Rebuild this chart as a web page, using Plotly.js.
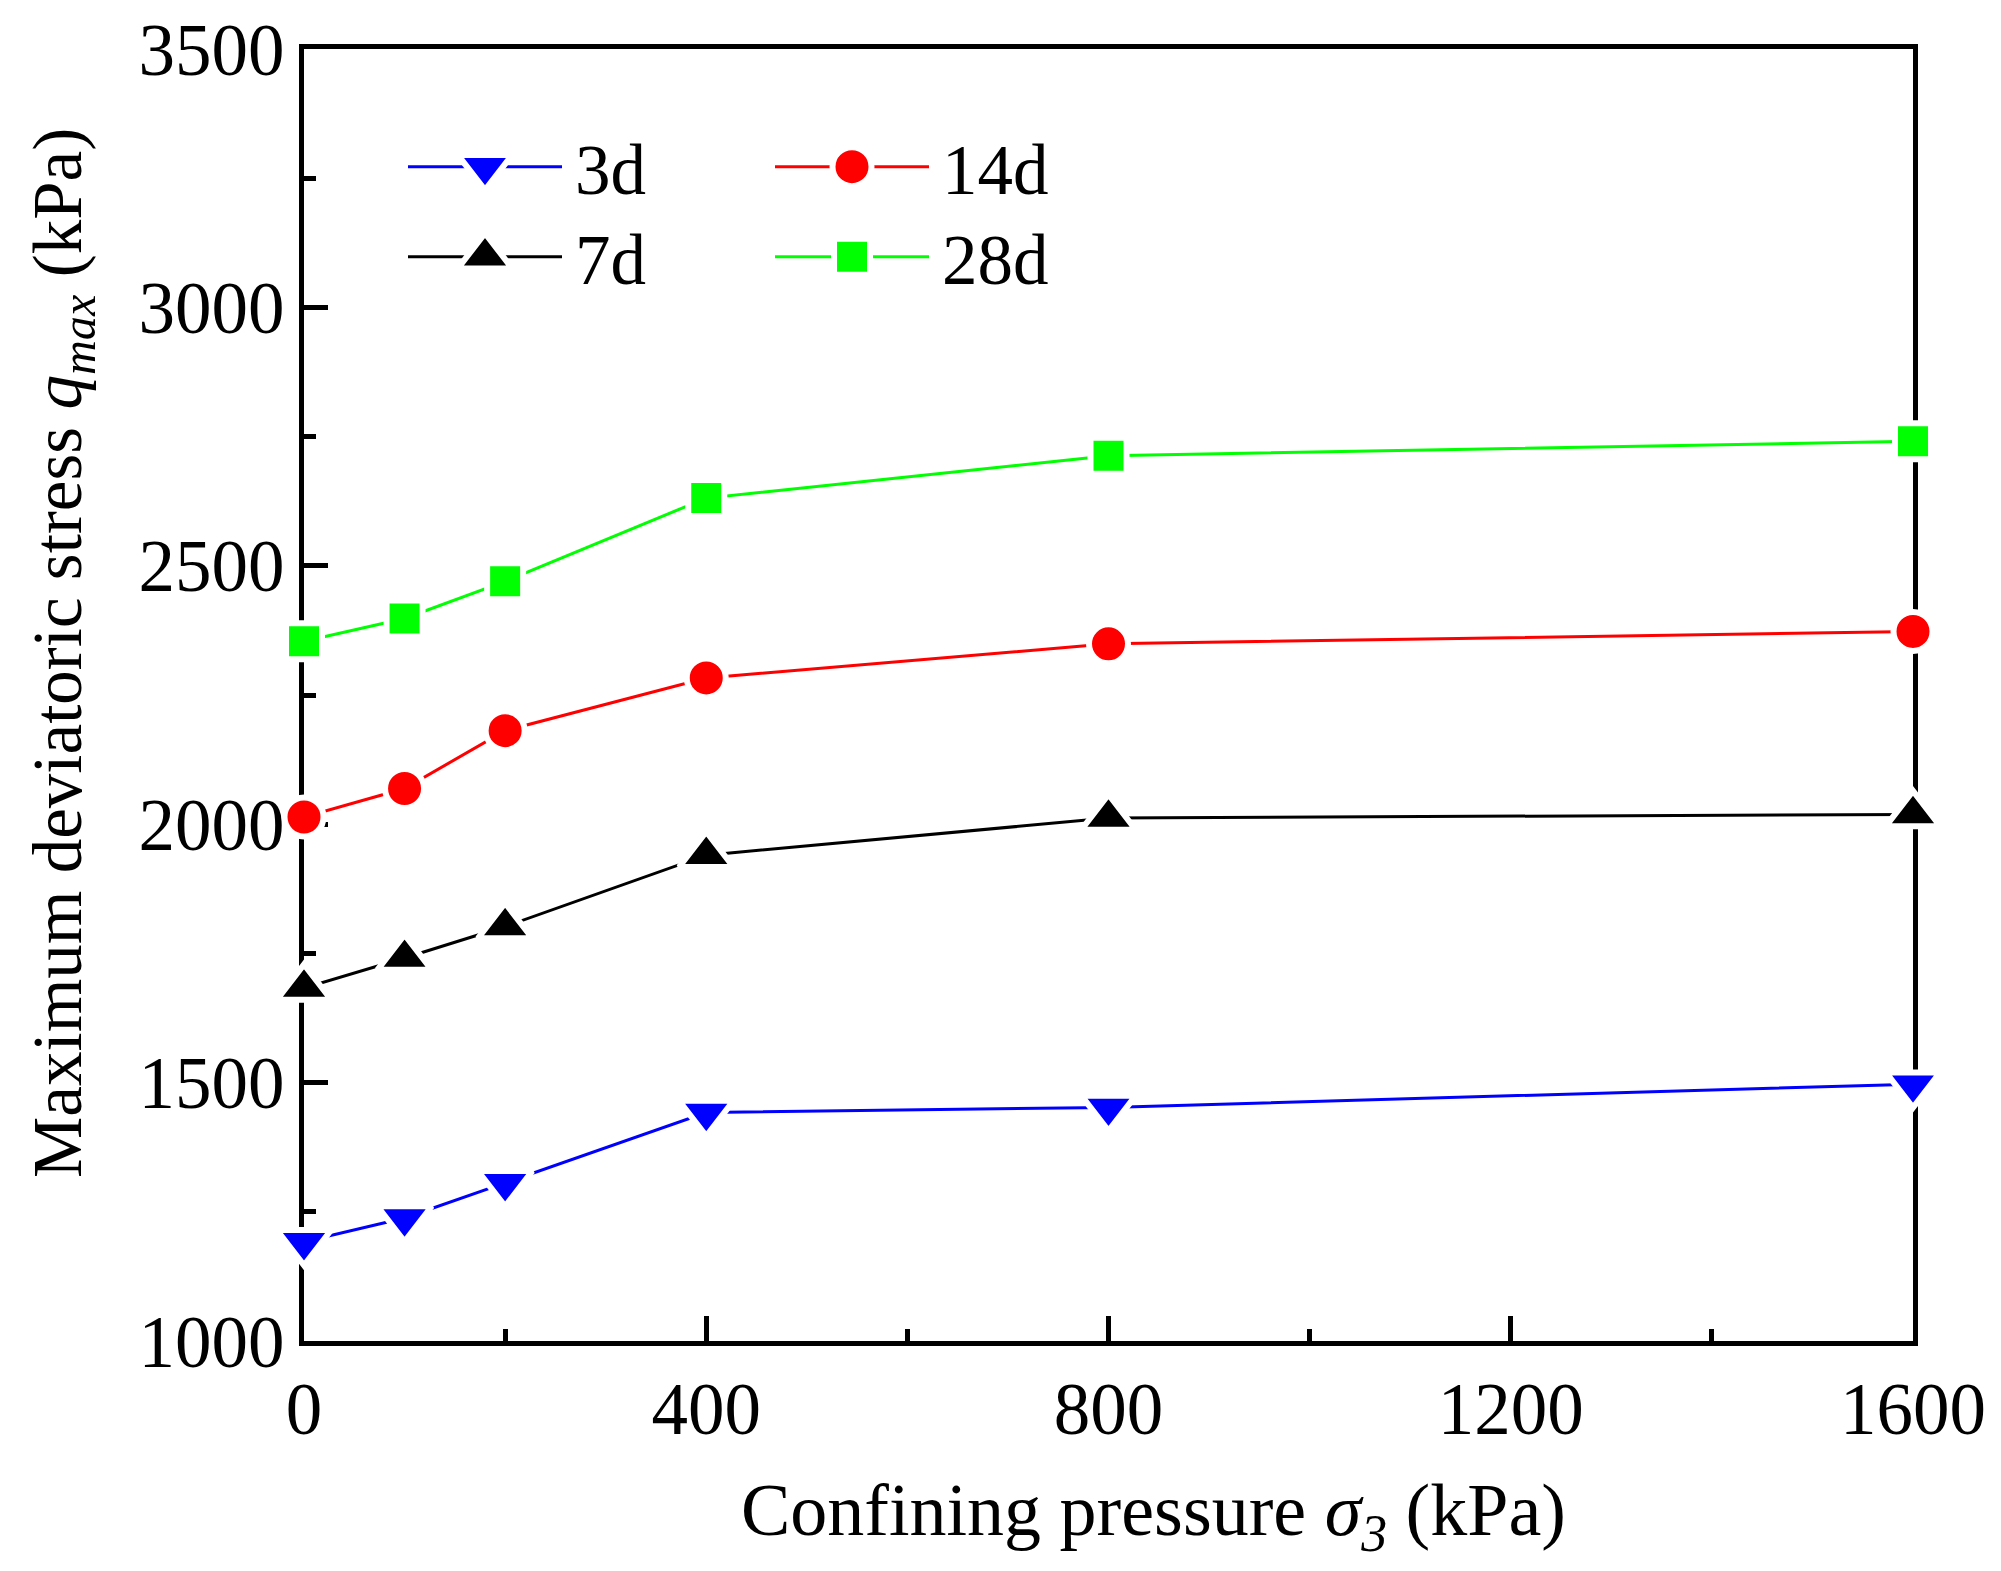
<!DOCTYPE html>
<html>
<head>
<meta charset="utf-8">
<script src="https://cdn.plot.ly/plotly-3.0.1.min.js"></script>
<style>body{margin:0;background:#fff;}#chart{width:2001px;height:1571px;}</style>
</head>
<body>
<div id="chart"></div>
<script>
// Data
const confiningPressure = [0, 100, 200, 400, 800, 1600];
const q3d  = [1192, 1238, 1306, 1442, 1452, 1497];
const q7d  = [1683, 1741, 1802, 1940, 2012, 2019];
const q14d = [2014, 2069, 2181, 2283, 2349, 2373];
const q28d = [2354, 2398, 2470, 2631, 2713, 2741];
const seriesNames = ['3d', '7d', '14d', '28d'];
const xTickVals = [0, 400, 800, 1200, 1600];
const yTickVals = [1000, 1500, 2000, 2500, 3000, 3500];
const xTitle = 'Confining pressure <i>σ</i><sub><i>3</i></sub> (kPa)';
const yTitle = 'Maximum deviatoric stress <i>q</i><sub><i>max</i></sub> (kPa)';

const FONT = 'Liberation Serif, Times New Roman, serif';
const GAP = 6;

function mk(y, name, color, symbol, size, legendId) {
  return {
    x: confiningPressure, y: y, name: name, type: 'scatter', mode: 'lines+markers',
    cliponaxis: false,
    line: {color: color, width: 3},
    marker: {symbol: symbol, size: size, color: color, line: {color: '#ffffff', width: GAP}},
    legend: legendId
  };
}

const data = [
  mk(q3d,  seriesNames[0], '#0000ff', 'triangle-down', 47, 'legend'),
  mk(q7d,  seriesNames[1], '#000000', 'triangle-up',   47, 'legend2'),
  mk(q14d, seriesNames[2], '#ff0000', 'circle',        39, 'legend3'),
  mk(q28d, seriesNames[3], '#00ff00', 'square',        36, 'legend4')
];

const L = 304, R = 1913, T = 49, B = 1341;
function px2x(p) { return (p - L) / (R - L); }
function px2y(p) { return (B - p) / (B - T); }

function leg(xpx, ytop) {
  return {x: px2x(xpx), y: px2y(ytop), xanchor: 'left', yanchor: 'top',
          bgcolor: 'rgba(0,0,0,0)', borderwidth: 0, itemwidth: 162,
          font: {family: FONT, size: 71, color: '#000'}};
}

const axisCommon = {
  showgrid: false, zeroline: false, showline: true, linecolor: '#000', linewidth: 5,
  mirror: true, ticks: 'inside', tickwidth: 5, tickcolor: '#000',
  tickfont: {family: FONT, size: 73, color: '#000'}, layer: 'below traces',
  fixedrange: true
};

const layout = {
  width: 2001, height: 1571,
  margin: {l: L, r: 2001 - R, t: T, b: 1571 - B},
  paper_bgcolor: '#fff', plot_bgcolor: '#fff',
  font: {family: FONT, color: '#000'},
  xaxis: Object.assign({}, axisCommon, {
    range: [0, 1600], tickvals: xTickVals, ticktext: xTickVals.map(String), ticklen: 25,
    minor: {dtick: 200, ticks: 'inside', ticklen: 12, tickwidth: 5, tickcolor: '#000'}
  }),
  yaxis: Object.assign({}, axisCommon, {
    range: [1000, 3500], tickvals: yTickVals, ticktext: yTickVals.map(String), ticklen: 24,
    minor: {dtick: 250, ticks: 'inside', ticklen: 12, tickwidth: 5, tickcolor: '#000'}
  }),
  annotations: [
    {text: xTitle, xref: 'paper', yref: 'paper', x: px2x(1153), y: px2y(1515),
     xanchor: 'center', yanchor: 'middle', showarrow: false,
     font: {family: FONT, size: 74, color: '#000'}},
    {text: yTitle, xref: 'paper', yref: 'paper', x: px2x(62), y: px2y(653),
     xanchor: 'center', yanchor: 'middle', showarrow: false, textangle: -90,
     font: {family: FONT, size: 69, color: '#000'}}
  ],
  legend:  leg(403, 114),
  legend2: leg(403, 204),
  legend3: leg(770, 114),
  legend4: leg(770, 204),
  showlegend: true
};

Plotly.newPlot('chart', data, layout, {staticPlot: true, displayModeBar: false}).then(function () {
  // Lengthen legend sample lines and use full-size markers like the original figure
  const traceGroups = document.querySelectorAll('.scatterlayer .trace');
  document.querySelectorAll('g.traces').forEach(function (el) {
    const d = el.__data__;
    if (!d || !d[0] || !d[0].trace) return;
    const idx = d[0].trace.index;
    const line = el.querySelector('path.js-line');
    if (line) line.setAttribute('d', 'M5,0h154');
    const mainPt = traceGroups[idx] ? traceGroups[idx].querySelector('path.point') : null;
    const lp = el.querySelector('path.scatterpts');
    if (lp && mainPt) {
      lp.setAttribute('d', mainPt.getAttribute('d'));
      lp.setAttribute('transform', 'translate(82,0)');
      lp.style.strokeWidth = GAP + 'px';
      lp.style.stroke = '#ffffff';
    }
  });
});
</script>
</body>
</html>
